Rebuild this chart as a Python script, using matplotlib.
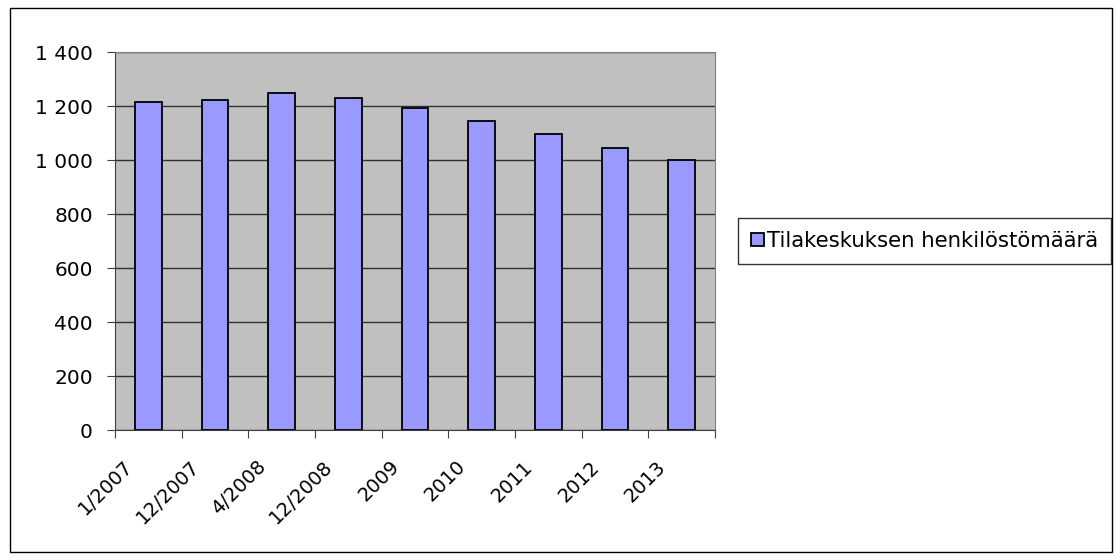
import matplotlib
matplotlib.use("Agg")
import matplotlib.pyplot as plt
from matplotlib.patches import Rectangle

categories = ["1/2007", "12/2007", "4/2008", "12/2008", "2009", "2010", "2011", "2012", "2013"]
values = [1215, 1222, 1250, 1230, 1192, 1146, 1096, 1044, 1000]
series_name = "Tilakeskuksen henkilöstömäärä"
y_ticks = [0, 200, 400, 600, 800, 1000, 1200, 1400]
y_tick_labels = ["0", "200", "400", "600", "800", "1 000", "1 200", "1 400"]

fig = plt.figure(figsize=(11.2, 5.6), dpi=100)
W, H = 1120, 560
ax = fig.add_axes([115 / W, 1 - 430 / H, 600 / W, 378 / H])
ax.set_facecolor("#C0C0C0")

x = list(range(len(categories)))
bars = ax.bar(x, values, width=0.4, color="#9999FF", edgecolor="black", linewidth=1.3,
              label=series_name, zorder=3)
ax.set_xlim(-0.5, len(categories) - 0.5)
ax.set_ylim(0, 1400)
ax.set_yticks(y_ticks)
ax.set_yticklabels(y_tick_labels, fontsize=14.5, family="DejaVu Sans")
ax.yaxis.grid(True, color="#303030", linewidth=1, zorder=1)
ax.set_axisbelow(True)

ax.set_xticks([i + 0.5 for i in range(-1, len(categories))])
ax.set_xticklabels([])
ax.tick_params(axis="x", direction="out", length=5.5, color="#404040")
ax.tick_params(axis="y", direction="out", length=6, color="#404040", pad=10)
for i, lab in enumerate(categories):
    ax.text(i - 0.38, -100, lab, rotation=45, ha="right", va="top", fontsize=14,
            family="DejaVu Sans", rotation_mode="anchor", transform=ax.transData)

for s in ["top", "right"]:
    ax.spines[s].set_color("#808080")
for s in ["left", "bottom"]:
    ax.spines[s].set_color("#404040")

leg = fig.legend(handles=[bars], labels=[series_name], loc="center left",
                 bbox_to_anchor=(738 / W, 1 - 241 / H), frameon=True, fancybox=False,
                 edgecolor="black", handlelength=0.6, handleheight=0.6,
                 handletextpad=0.15, borderpad=0.62, borderaxespad=0,
                 prop={"family": "DejaVu Sans", "size": 15.3})
leg.get_frame().set_linewidth(1)

fig.patches.append(Rectangle((10 / W, 1 - 552 / H), 1102 / W, 544 / H, transform=fig.transFigure,
                             fill=False, edgecolor="black", linewidth=1))

fig.savefig("out.png", dpi=100)
